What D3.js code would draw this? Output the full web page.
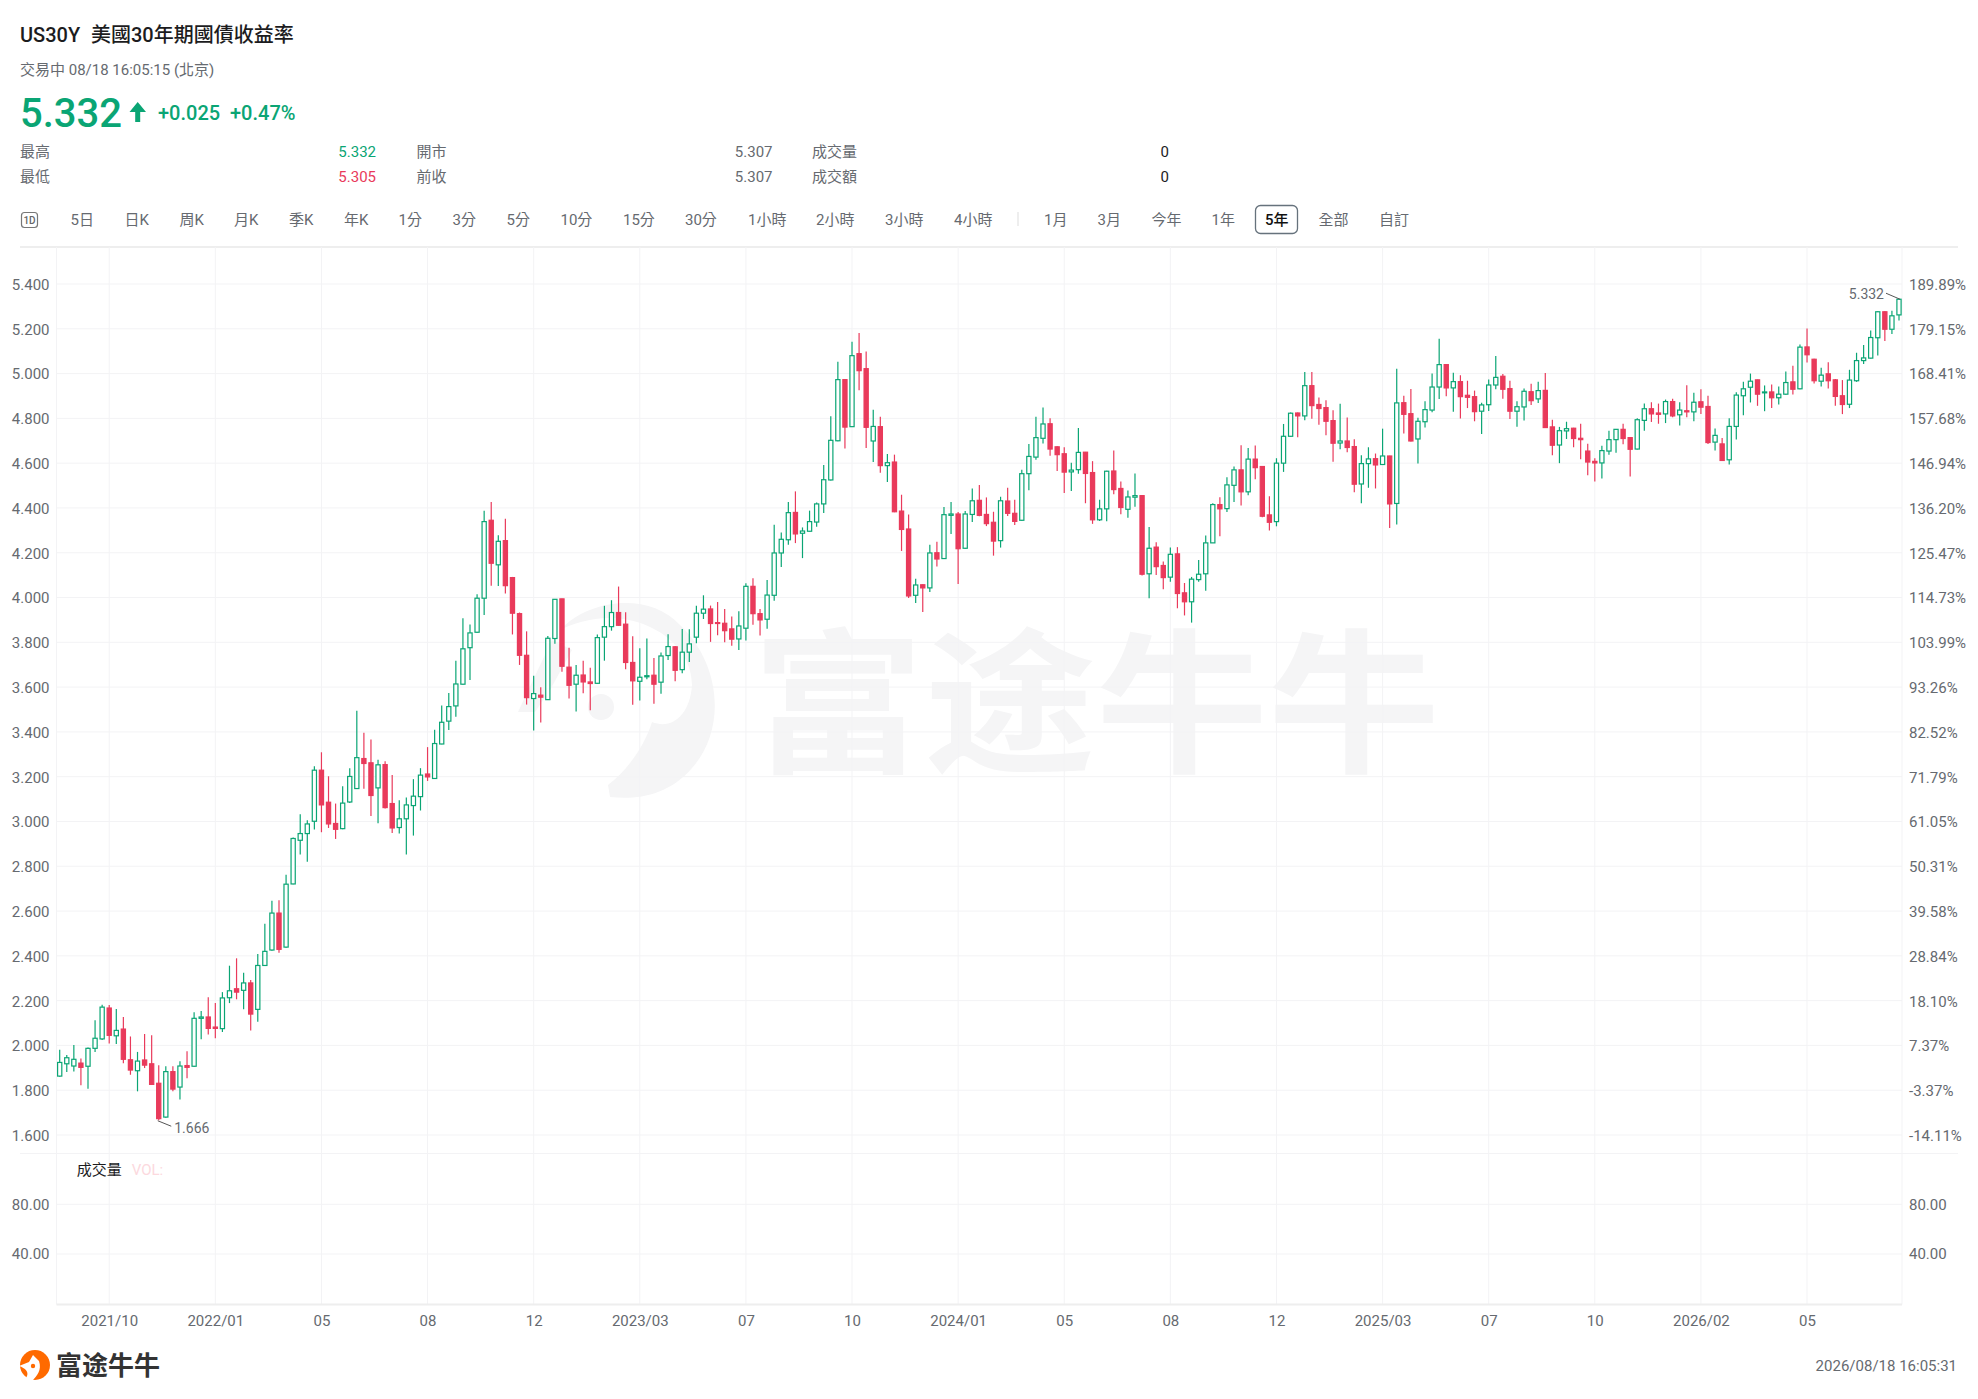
<!DOCTYPE html>
<html>
<head>
<meta charset="utf-8">
<title>US30Y</title>
<script src="https://cdnjs.cloudflare.com/ajax/libs/d3/7.8.5/d3.min.js"></script>
<style>
  html, body { margin: 0; padding: 0; background: #fff; }
  svg { display: block; }
  text { font-family: Roboto, "Noto Sans CJK TC", sans-serif; }
</style>
</head>
<body>
<svg id="chartSVG" width="1978" height="1399"></svg>
<script>
// candles, one per week, oldest first.
var opens = [1.863,1.918,1.908,1.921,1.907,1.987,2.029,2.167,2.043,2.073,1.936,1.887,1.935,1.918,1.831,1.680,1.883,1.814,1.910,1.907,
2.121,2.127,2.082,2.075,2.213,2.253,2.246,2.279,2.161,2.357,2.426,2.591,2.439,2.721,2.916,2.946,3.001,3.229,3.086,2.991,
2.968,3.087,3.147,3.281,3.262,3.150,3.254,3.080,2.973,3.012,3.071,3.111,3.212,3.192,3.346,3.448,3.516,3.613,3.776,3.845,
3.997,4.345,4.146,4.254,4.089,3.928,3.742,3.549,3.564,3.544,3.817,3.994,3.689,3.613,3.654,3.623,3.617,3.823,3.870,3.933,
3.881,3.710,3.626,3.646,3.653,3.622,3.741,3.780,3.678,3.756,3.823,3.930,3.949,3.888,3.885,3.860,3.815,3.863,4.050,3.928,
3.903,4.010,4.199,4.258,4.380,4.287,4.296,4.337,4.418,4.525,4.700,4.973,4.763,5.089,5.022,4.699,4.763,4.589,4.605,4.386,
4.306,4.010,4.057,4.043,4.200,4.174,4.367,4.373,4.220,4.371,4.434,4.371,4.336,4.254,4.431,4.376,4.345,4.553,4.627,4.711,
4.776,4.673,4.642,4.561,4.571,4.649,4.558,4.347,4.396,4.565,4.487,4.394,4.448,4.455,4.106,4.225,4.143,4.091,4.195,4.021,
3.981,4.080,4.106,4.244,4.415,4.397,4.501,4.570,4.472,4.618,4.585,4.369,4.339,4.600,4.720,4.824,4.811,4.946,4.862,4.848,
4.790,4.690,4.699,4.674,4.507,4.598,4.620,4.594,4.632,4.420,4.870,4.821,4.708,4.785,4.837,4.940,5.040,4.936,4.964,4.903,
4.897,4.832,4.861,4.949,4.988,4.933,4.832,4.851,4.919,4.887,4.925,4.762,4.681,4.744,4.756,4.711,4.654,4.608,4.601,4.654,
4.705,4.751,4.714,4.663,4.791,4.843,4.824,4.820,4.875,4.816,4.834,4.829,4.874,4.853,4.694,4.686,4.615,4.764,4.901,4.939,
4.972,4.914,4.918,4.892,4.908,4.963,4.932,5.119,5.064,4.966,4.999,4.972,4.901,4.863,4.968,5.058,5.069,5.160,5.276,5.198,5.262];
var highs = [1.981,1.957,2.002,1.942,1.991,2.112,2.182,2.180,2.163,2.127,2.040,1.971,2.051,2.045,1.911,1.907,1.907,1.929,1.974,2.148,
2.154,2.215,2.189,2.238,2.356,2.389,2.325,2.292,2.408,2.543,2.646,2.648,2.762,2.928,3.032,3.006,3.247,3.309,3.202,3.080,
3.157,3.238,3.494,3.396,3.366,3.276,3.269,3.208,3.095,3.107,3.189,3.238,3.332,3.410,3.518,3.574,3.718,3.907,3.879,4.015,
4.387,4.427,4.278,4.352,4.092,3.933,3.849,3.651,3.599,3.828,3.992,3.995,3.776,3.699,3.718,3.686,3.835,3.963,3.988,4.049,
3.934,3.827,3.774,3.817,3.730,3.754,3.836,3.784,3.860,3.858,3.963,4.010,3.964,3.980,3.949,3.915,3.939,4.064,4.086,3.949,
4.078,4.325,4.290,4.426,4.474,4.313,4.388,4.424,4.592,4.809,5.053,4.974,5.142,5.181,5.099,4.839,4.807,4.641,4.638,4.459,
4.371,4.084,4.058,4.236,4.249,4.404,4.426,4.382,4.386,4.487,4.502,4.447,4.383,4.450,4.490,4.437,4.571,4.685,4.807,4.848,
4.801,4.675,4.671,4.602,4.757,4.650,4.609,4.437,4.566,4.656,4.518,4.478,4.554,4.457,4.315,4.247,4.161,4.223,4.225,4.065,
4.092,4.168,4.277,4.421,4.448,4.537,4.585,4.680,4.668,4.679,4.587,4.452,4.622,4.775,4.826,4.826,5.007,5.007,4.893,4.881,
4.836,4.865,4.804,4.707,4.635,4.671,4.643,4.754,4.633,5.022,4.901,4.931,4.803,4.876,5.000,5.156,5.042,5.004,4.992,4.968,
4.924,4.870,4.974,5.079,4.998,4.968,4.876,4.933,4.955,4.963,5.003,4.794,4.762,4.785,4.758,4.776,4.687,4.622,4.678,4.745,
4.752,4.776,4.716,4.800,4.866,4.872,4.866,4.884,4.888,4.872,4.948,4.914,4.930,4.901,4.755,4.712,4.800,4.917,4.963,5.000,
4.973,4.947,4.951,4.942,5.009,5.035,5.130,5.201,5.066,5.026,5.051,4.976,4.971,5.017,5.093,5.128,5.192,5.278,5.278,5.280,5.332];
var lows = [1.860,1.881,1.884,1.822,1.807,1.971,2.024,2.009,2.006,1.920,1.869,1.795,1.899,1.823,1.666,1.677,1.795,1.759,1.853,1.905,
2.027,2.049,2.032,2.060,2.189,2.206,2.161,2.067,2.106,2.357,2.423,2.414,2.436,2.720,2.852,2.820,2.964,2.952,2.971,2.922,
2.965,3.083,3.146,3.146,3.025,2.992,3.058,2.948,2.946,2.852,2.937,3.049,3.181,3.190,3.345,3.409,3.468,3.612,3.632,3.843,
3.922,4.053,4.052,4.018,3.835,3.699,3.522,3.406,3.442,3.542,3.794,3.669,3.549,3.491,3.573,3.497,3.615,3.718,3.852,3.874,
3.680,3.521,3.540,3.635,3.526,3.570,3.721,3.626,3.662,3.712,3.796,3.904,3.802,3.832,3.800,3.785,3.766,3.808,3.878,3.830,
3.861,3.986,4.136,4.236,4.243,4.176,4.295,4.316,4.377,4.523,4.698,4.666,4.761,4.926,4.668,4.605,4.557,4.516,4.381,4.208,
3.998,3.976,3.935,4.025,4.139,4.172,4.284,4.060,4.218,4.337,4.363,4.319,4.187,4.223,4.364,4.324,4.343,4.479,4.615,4.688,
4.633,4.565,4.467,4.476,4.553,4.421,4.329,4.342,4.341,4.461,4.372,4.356,4.405,4.098,3.997,4.101,4.037,4.070,3.952,3.920,
3.888,4.071,4.030,4.243,4.274,4.382,4.427,4.411,4.457,4.528,4.359,4.299,4.318,4.561,4.718,4.716,4.792,4.798,4.771,4.725,
4.606,4.662,4.649,4.470,4.421,4.490,4.487,4.592,4.311,4.326,4.732,4.697,4.599,4.759,4.827,4.887,4.899,4.829,4.799,4.846,
4.787,4.730,4.833,4.930,4.888,4.797,4.763,4.791,4.860,4.869,4.757,4.635,4.600,4.708,4.671,4.617,4.546,4.518,4.532,4.638,
4.646,4.684,4.540,4.661,4.745,4.784,4.776,4.779,4.805,4.768,4.805,4.787,4.820,4.686,4.657,4.610,4.594,4.706,4.814,4.871,
4.856,4.832,4.846,4.862,4.906,4.907,4.930,5.049,4.956,4.942,4.933,4.856,4.819,4.846,4.963,5.043,5.067,5.081,5.145,5.177,5.237];
var closes = [1.924,1.945,1.938,1.902,1.987,2.032,2.171,2.045,2.067,1.938,1.890,1.930,1.912,1.826,1.673,1.883,1.805,1.908,1.902,2.121,
2.127,2.076,2.076,2.212,2.244,2.238,2.279,2.140,2.357,2.420,2.591,2.429,2.720,2.924,2.946,2.989,3.229,3.074,2.989,2.965,
3.082,3.201,3.285,3.259,3.116,3.253,3.062,2.971,3.012,3.074,3.113,3.207,3.199,3.348,3.443,3.513,3.614,3.771,3.842,3.997,
4.339,4.153,4.251,4.053,3.930,3.742,3.553,3.571,3.555,3.818,3.992,3.693,3.608,3.653,3.623,3.616,3.821,3.870,3.933,3.876,
3.710,3.628,3.644,3.651,3.613,3.739,3.781,3.675,3.756,3.793,3.930,3.948,3.884,3.884,3.852,3.814,3.873,4.050,3.928,3.900,
4.011,4.199,4.260,4.379,4.284,4.297,4.339,4.418,4.526,4.702,4.973,4.761,5.080,5.013,4.760,4.764,4.589,4.602,4.383,4.304,
4.007,4.056,4.043,4.199,4.172,4.370,4.373,4.218,4.373,4.432,4.367,4.330,4.252,4.432,4.376,4.340,4.553,4.630,4.714,4.775,
4.663,4.638,4.560,4.569,4.648,4.554,4.347,4.396,4.564,4.482,4.402,4.449,4.455,4.104,4.220,4.138,4.089,4.193,4.018,3.981,
4.082,4.104,4.244,4.415,4.396,4.503,4.570,4.472,4.618,4.580,4.363,4.336,4.600,4.720,4.823,4.811,4.946,4.857,4.844,4.787,
4.689,4.699,4.670,4.506,4.598,4.619,4.592,4.632,4.418,4.869,4.818,4.699,4.787,4.839,4.940,5.040,4.936,4.964,4.897,4.894,
4.830,4.860,4.949,4.983,4.930,4.832,4.852,4.921,4.879,4.924,4.759,4.680,4.745,4.754,4.710,4.705,4.605,4.601,4.656,4.705,
4.751,4.710,4.662,4.794,4.843,4.820,4.818,4.875,4.811,4.837,4.829,4.872,4.850,4.692,4.724,4.612,4.764,4.904,4.932,4.966,
4.908,4.918,4.892,4.908,4.960,4.930,5.118,5.084,4.968,4.993,4.968,4.898,4.862,4.971,5.058,5.070,5.161,5.276,5.198,5.258,5.332];

// axes
var priceTicks = [1.6,1.8,2.0,2.2,2.4,2.6,2.8,3.0,3.2,3.4,3.6,3.8,4.0,4.2,4.4,4.6,4.8,5.0,5.2,5.4];
var pctLabels = ["-14.11%","-3.37%","7.37%","18.10%","28.84%","39.58%","50.31%","61.05%","71.79%","82.52%","93.26%","103.99%","114.73%","125.47%","136.20%","146.94%","157.68%","168.41%","179.15%","189.89%"];
var volTicks = [40, 80];
var xTickIndex = [7,22,37,52,67,82,97,112,127,142,157,172,187,202,217,232,247];
var xTickLabels = ["2021/10","2022/01","05","08","12","2023/03","07","10","2024/01","05","08","12","2025/03","07","10","2026/02","05"];

// toolbar
var tabNames = ["5日","日K","周K","月K","季K","年K","1分","3分","5分","10分","15分","30分","1小時","2小時","3小時","4小時","1月","3月","今年","1年","5年","全部","自訂"];
var tabX = [70.5,124.5,179.5,234,289,344,398.5,452.5,506.5,560.5,623,685,748,816,885,954,1044,1097.5,1151.5,1211.5,1265,1318.5,1379];

var green = "#0aa574";
var red = "#e93a5b";
var gridColor = "#f3f3f5";
var grey = "#666a70";

var svg = d3.select("#chartSVG");

var plotLeft = 56.5, plotRight = 1902;
var plotTop = 247, plotBottom = 1304.5;

var xScale = d3.scaleLinear().domain([0, opens.length - 1]).range([59.7, 1899]);
var yScale = d3.scaleLinear().domain([1.6, 5.4]).range([1135, 284]);
var volScale = d3.scaleLinear().domain([0, 80]).range([1303.7, 1204.3]);

function label(x, y, str, size, color, anchor, weight) {
    return svg.append("text")
        .attr("x", x).attr("y", y)
        .attr("dy", "0.35em")
        .attr("font-size", size)
        .attr("fill", color)
        .attr("text-anchor", anchor || "start")
        .attr("font-weight", weight || 400)
        .text(str);
}

//header
label(20, 35, "US30Y", 20, "#1c1c1e", "start", 500);
label(91, 35, "美國30年期國債收益率", 20, "#1c1c1e", "start", 500);
label(20, 70, "交易中 08/18 16:05:15 (北京)", 15, grey);
label(20, 113, "5.332", 40, green, "start", 500);
svg.append("path")
    .attr("d", "M137.7,102 L146,112 L140.2,112 L140.2,122 L135.2,122 L135.2,112 L129.5,112 Z")
    .attr("fill", green);
label(158, 113, "+0.025", 20, green, "start", 500);
label(230, 113, "+0.47%", 20, green, "start", 500);

label(20, 152, "最高", 15, grey);
label(20, 177, "最低", 15, grey);
label(376, 152, "5.332", 15, green, "end");
label(376, 177, "5.305", 15, red, "end");
label(416.5, 152, "開市", 15, grey);
label(416.5, 177, "前收", 15, grey);
label(772.5, 152, "5.307", 15, grey, "end");
label(772.5, 177, "5.307", 15, grey, "end");
label(812, 152, "成交量", 15, grey);
label(812, 177, "成交額", 15, grey);
label(1169, 152, "0", 15, "#1c1c1e", "end");
label(1169, 177, "0", 15, "#1c1c1e", "end");

//toolbar
svg.append("rect").attr("x", 21.5).attr("y", 212.5).attr("width", 16).attr("height", 15).attr("rx", 3)
    .attr("fill", "none").attr("stroke", "#777").attr("stroke-width", 1.2);
label(29.5, 220, "1D", 10, "#666", "middle", 500);

svg.append("rect").attr("x", 1255.5).attr("y", 205.5).attr("width", 42).attr("height", 28).attr("rx", 5)
    .attr("fill", "#fff").attr("stroke", "#66727c").attr("stroke-width", 1.3);

svg.selectAll(".tab")
    .data(tabNames).enter()
    .append("text")
    .attr("class", "tab")
    .attr("x", function(d, i){ return tabX[i]; })
    .attr("y", 220)
    .attr("dy", "0.35em")
    .attr("font-size", 15)
    .attr("font-weight", function(d){ return d == "5年" ? 500 : 400; })
    .attr("fill", function(d){ return d == "5年" ? "#111" : grey; })
    .text(function(d){ return d; });

svg.append("line").attr("x1", 1018).attr("x2", 1018).attr("y1", 212).attr("y2", 226).attr("stroke", "#ddd");
svg.append("line").attr("x1", 20).attr("x2", 1958).attr("y1", 247).attr("y2", 247).attr("stroke", "#eeeeee").attr("stroke-width", 2);

//watermark
var mark = svg.append("g").attr("fill", "#f5f5f6").attr("stroke", "none");
mark.append("text")
    .attr("transform", "translate(752,760) scale(1,0.9)")
    .attr("font-size", 172)
    .attr("font-weight", 700)
    .attr("style", "font-family:'Noto Sans CJK SC'")
    .attr("fill", "#f5f5f6")
    .text("富途牛牛");
mark.append("path")
    .attr("d", "M560,630 C590,598 650,592 680,625 C722,665 726,730 692,768 C668,796 636,800 610,797 L608,785 C628,770 645,745 652,722 C672,730 690,715 692,685 C692,645 650,618 610,618 C590,618 572,624 560,630 Z");
mark.append("path").attr("d", "M518,712 L552,640 L572,650 L550,690 L535,712 Z");
mark.append("circle").attr("cx", 601).attr("cy", 707).attr("r", 13);

//grid
var gridG = svg.append("g").attr("stroke", gridColor).attr("stroke-width", 1);
gridG.selectAll(".hline")
    .data(priceTicks).enter()
    .append("line")
    .attr("x1", plotLeft).attr("x2", plotRight)
    .attr("y1", function(d){ return yScale(d); })
    .attr("y2", function(d){ return yScale(d); });
gridG.selectAll(".vol-line")
    .data(volTicks).enter()
    .append("line")
    .attr("x1", plotLeft).attr("x2", plotRight)
    .attr("y1", function(d){ return volScale(d); })
    .attr("y2", function(d){ return volScale(d); });
gridG.selectAll(".vline")
    .data(xTickIndex).enter()
    .append("line")
    .attr("x1", function(d){ return xScale(d); })
    .attr("x2", function(d){ return xScale(d); })
    .attr("y1", plotTop).attr("y2", plotBottom);
gridG.append("line").attr("x1", plotLeft).attr("x2", plotLeft).attr("y1", plotTop).attr("y2", plotBottom);
gridG.append("line").attr("x1", plotRight).attr("x2", plotRight).attr("y1", plotTop).attr("y2", plotBottom);
gridG.append("line").attr("x1", 20).attr("x2", 1958).attr("y1", 1153.5).attr("y2", 1153.5);
gridG.append("line").attr("x1", plotLeft).attr("x2", plotRight).attr("y1", plotBottom).attr("y2", plotBottom)
    .attr("stroke", "#eeeeee").attr("stroke-width", 2);

//candles
var candles = svg.append("g").attr("class", "candles")
    .selectAll("g")
    .data(opens).enter()
    .append("g")
    .attr("stroke", function(d, i){ return closes[i] >= d ? green : red; });

candles.append("line")
    .attr("x1", function(d, i){ return xScale(i); })
    .attr("x2", function(d, i){ return xScale(i); })
    .attr("y1", function(d, i){ return yScale(highs[i]); })
    .attr("y2", function(d, i){ return yScale(lows[i]); })
    .attr("stroke-width", 1.2);

candles.append("rect")
    .attr("x", function(d, i){ return xScale(i) - 2.1; })
    .attr("width", 4.2)
    .attr("y", function(d, i){ return yScale(Math.max(d, closes[i])); })
    .attr("height", function(d, i){ return Math.max(0.6, Math.abs(yScale(d) - yScale(closes[i]))); })
    .attr("stroke-width", 1.2)
    .attr("fill", function(d, i){ return closes[i] >= d ? "#fff" : red; });

//axes
function styleAxis(g) {
    g.select(".domain").remove();
    g.selectAll("line").remove();
    g.selectAll("text").attr("font-size", 15).attr("fill", grey)
        .attr("font-family", "Roboto, 'Noto Sans CJK TC', sans-serif");
}

function nudgeDown(g) {
    g.selectAll("text").attr("dy", "0.36em");
}

svg.append("g")
    .attr("transform", "translate(" + plotLeft + ",0)")
    .call(d3.axisLeft(yScale).tickValues(priceTicks).tickSize(0).tickPadding(7).tickFormat(d3.format(".3f")))
    .call(styleAxis).call(nudgeDown);

svg.append("g")
    .attr("transform", "translate(" + plotRight + ",0)")
    .call(d3.axisRight(yScale).tickValues(priceTicks).tickSize(0).tickPadding(7)
        .tickFormat(function(d, i){ return pctLabels[i]; }))
    .call(styleAxis).call(nudgeDown);

svg.append("g")
    .attr("transform", "translate(" + plotLeft + ",0)")
    .call(d3.axisLeft(volScale).tickValues(volTicks).tickSize(0).tickPadding(7).tickFormat(d3.format(".2f")))
    .call(styleAxis);

svg.append("g")
    .attr("transform", "translate(" + plotRight + ",0)")
    .call(d3.axisRight(volScale).tickValues(volTicks).tickSize(0).tickPadding(7).tickFormat(d3.format(".2f")))
    .call(styleAxis);

svg.append("g")
    .attr("transform", "translate(0,1315)")
    .call(d3.axisBottom(xScale).tickValues(xTickIndex).tickSize(0).tickPadding(0)
        .tickFormat(function(d, i){ return xTickLabels[i]; }))
    .call(styleAxis);

//min and last markers
var minIdx = d3.minIndex(lows);
var lastIdx = opens.length - 1;
svg.append("line")
    .attr("x1", xScale(minIdx) - 1).attr("y1", yScale(lows[minIdx]) + 0.5)
    .attr("x2", xScale(minIdx) + 12.5).attr("y2", yScale(lows[minIdx]) + 6)
    .attr("stroke", "#555");
label(xScale(minIdx) + 15.5, yScale(lows[minIdx]) + 7.5, d3.format(".3f")(lows[minIdx]), 14, grey);
svg.append("line")
    .attr("x1", xScale(lastIdx) + 1).attr("y1", yScale(closes[lastIdx]))
    .attr("x2", xScale(lastIdx) - 13).attr("y2", yScale(closes[lastIdx]) - 6)
    .attr("stroke", "#555");
label(xScale(lastIdx) - 15, yScale(closes[lastIdx]) - 5, d3.format(".3f")(closes[lastIdx]), 14, grey, "end");

//volume legend, no bars in this market
label(76.7, 1170, "成交量", 15, "#1c1c1e");
label(131.7, 1170, "VOL:", 15, "#fcd9de");

//footer
svg.append("circle").attr("cx", 35).attr("cy", 1365).attr("r", 15).attr("fill", "#ff6a00");
svg.append("path").attr("d", "M33,1355 L39,1361 C42,1370 37,1376 32,1381 L26,1378 C30,1372 25,1368 19,1366 L29,1362 Z").attr("fill", "#fff");
svg.append("circle").attr("cx", 33).attr("cy", 1366).attr("r", 2.2).attr("fill", "#ff6a00");
svg.append("text")
    .attr("x", 56).attr("y", 1375)
    .attr("font-size", 26)
    .attr("font-weight", 700)
    .attr("style", "font-family:'Noto Sans CJK SC'")
    .attr("fill", "#333")
    .text("富途牛牛");
label(1957, 1366, "2026/08/18 16:05:31", 15, grey, "end");
</script>
</body>
</html>
